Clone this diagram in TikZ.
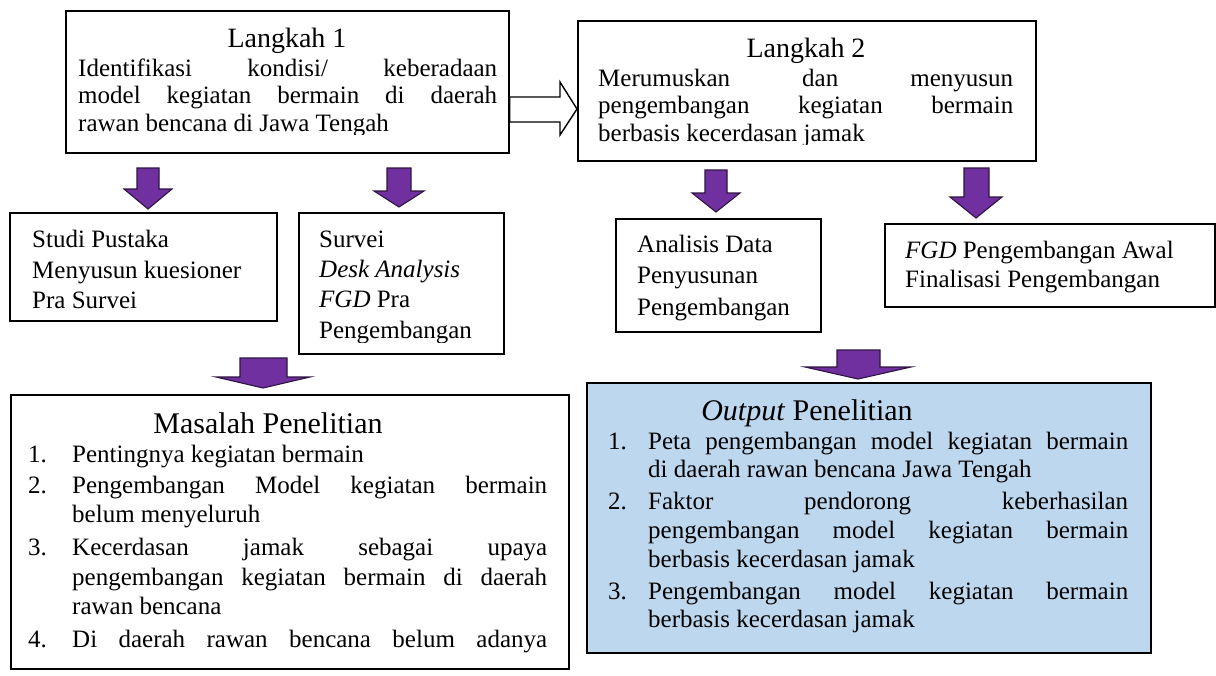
\documentclass[tikz,border=0pt]{standalone}
\usepackage{fontspec}
\setmainfont{Liberation Serif}
\newcommand{\bodyf}{\fontsize{25}{30}\selectfont}
\newcommand{\headf}{\fontsize{28}{33}\selectfont}
\newcommand{\headg}{\fontsize{30}{35}\selectfont}
\newcommand{\jl}[2]{\makebox[#1][s]{#2}}
\newcommand{\nm}[1]{\makebox[44pt][l]{#1}}
\newcommand{\nmo}[1]{\makebox[40pt][l]{#1}}
\definecolor{purp}{HTML}{7030A0}
\definecolor{purpline}{HTML}{2E1440}
\definecolor{outblue}{HTML}{BDD7EE}
\tikzset{
  box/.style={draw=black, line width=1.7pt, inner sep=0pt, anchor=north west},
  ln/.style={anchor=base west, inner sep=0pt, font=\bodyf},
  hd/.style={anchor=base, inner sep=0pt},
  parrow/.style={fill=purp, draw=purpline, line width=1.1pt, line join=miter},
  harrow/.style={fill=white, draw=black, line width=1.4pt, line join=miter}
}
\begin{document}
\begin{tikzpicture}[x=1pt,y=-1pt]
\useasboundingbox (0,0) rectangle (1216,675);
\fill[white] (0,0) rectangle (1216,675);

% ---------- boxes ----------
\node[box, minimum width=443pt, minimum height=142pt] (L1) at (65,10) {};
\node[box, minimum width=458pt, minimum height=140pt] (L2) at (577,20) {};
\node[box, minimum width=267pt, minimum height=108pt] (SP) at (9,212) {};
\node[box, minimum width=205pt, minimum height=141pt] (SV) at (298,212) {};
\node[box, minimum width=205pt, minimum height=113pt] (AD) at (615,218) {};
\node[box, minimum width=330pt, minimum height=83pt] (FG) at (884,223) {};
\node[box, minimum width=558pt, minimum height=274pt] (MP) at (10,394) {};
\node[box, fill=outblue, minimum width=564pt, minimum height=270pt] (OP) at (586,382) {};

% ---------- hollow arrow L1 -> L2 ----------
\draw[harrow] (L1.east |- 0,97) -- (560,97) -- (560,82) -- (L2.west |- 0,109) -- (560,135) -- (560,122) -- (L1.east |- 0,122) -- cycle;

% ---------- purple block arrows ----------
\draw[parrow] (137,168) -- (159,168) -- (159,189) -- (172,189) -- (148,209) -- (124,189) -- (137,189) -- cycle;
\draw[parrow] (387,168) -- (411,168) -- (411,191) -- (424,191) -- (399,207) -- (374,191) -- (387,191) -- cycle;
\draw[parrow] (705,170) -- (727,170) -- (727,193) -- (740,193) -- (716,212) -- (692,193) -- (705,193) -- cycle;
\draw[parrow] (964,168) -- (989,168) -- (989,197) -- (1002,197) -- (976,218) -- (950,197) -- (964,197) -- cycle;
\draw[parrow] (240,358) -- (287,358) -- (287,377) -- (310,377) -- (263,388) -- (216,377) -- (240,377) -- cycle;
\draw[parrow] (837,350) -- (880,350) -- (880,367) -- (911,367) -- (858,379) -- (805,367) -- (837,367) -- cycle;

% ---------- Langkah 1 ----------
\begin{scope}
\clip (65,10) rectangle (508,134);
\node[hd, font=\headf] (l1h) at (287,47) {Langkah 1};
\node[ln] (l1a) at (78,76) {\jl{419pt}{Identifikasi kondisi/ keberadaan}};
\node[ln] (l1b) at (78,103.5) {\jl{419pt}{model kegiatan bermain di daerah}};
\node[ln] (l1c) at (78,131) {rawan bencana di Jawa Tengah};
\end{scope}

% ---------- Langkah 2 ----------
\begin{scope}
\clip (577,20) rectangle (1035,144);
\node[hd, font=\headf] (l2h) at (806,57) {Langkah 2};
\node[ln] (l2a) at (598,86) {\jl{415pt}{Merumuskan dan menyusun}};
\node[ln] (l2b) at (598,113.5) {\jl{415pt}{pengembangan kegiatan bermain}};
\node[ln] (l2c) at (598,141) {berbasis kecerdasan jamak};
\end{scope}

% ---------- Studi Pustaka ----------
\node[ln] (spa) at (32,247) {Studi Pustaka};
\node[ln] (spb) at (32,278) {Menyusun kuesioner};
\node[ln] (spc) at (32,308) {Pra Survei};

% ---------- Survei ----------
\begin{scope}
\clip (298,212) rectangle (503,342);
\node[ln] (sva) at (319,247) {Survei};
\node[ln] (svb) at (319,277) {\textit{Desk Analysis}};
\node[ln] (svc) at (319,307) {\textit{FGD} Pra};
\node[ln] (svd) at (319,338) {Pengembangan};
\end{scope}

% ---------- Analisis Data ----------
\node[ln] (ada) at (637,252) {Analisis Data};
\node[ln] (adb) at (637,283) {Penyusunan};
\node[ln] (adc) at (637,315) {Pengembangan};

% ---------- FGD ----------
\node[ln] (fga) at (905,258) {\textit{FGD} Pengembangan Awal};
\node[ln] (fgb) at (905,287) {Finalisasi Pengembangan};

% ---------- Masalah Penelitian ----------
\begin{scope}
\clip (10,394) rectangle (568,664);
\node[hd, font=\headg] (mph) at (268,433) {Masalah Penelitian};
\node[ln] (mp1) at (28,462) {\nm{1.}Pentingnya kegiatan bermain};
\node[ln] (mp2) at (28,493) {\nm{2.}\jl{475pt}{Pengembangan Model kegiatan bermain}};
\node[ln] (mp2b) at (72,522) {belum menyeluruh};
\node[ln] (mp3) at (28,555) {\nm{3.}\jl{475pt}{Kecerdasan jamak sebagai upaya}};
\node[ln] (mp3b) at (72,585) {\jl{475pt}{pengembangan kegiatan bermain di daerah}};
\node[ln] (mp3c) at (72,614) {rawan bencana};
\node[ln] (mp4) at (28,647) {\nm{4.}\jl{475pt}{Di daerah rawan bencana belum adanya}};
\end{scope}

% ---------- Output Penelitian ----------
\node[hd, font=\headg] (oph) at (807,420) {\textit{Output} Penelitian};
\node[ln] (op1) at (608,449) {\nmo{1.}\jl{480pt}{Peta pengembangan model kegiatan bermain}};
\node[ln] (op1b) at (648,477) {di daerah rawan bencana Jawa Tengah};
\node[ln] (op2) at (608,509) {\nmo{2.}\jl{480pt}{Faktor pendorong keberhasilan}};
\node[ln] (op2b) at (648,538) {\jl{480pt}{pengembangan model kegiatan bermain}};
\node[ln] (op2c) at (648,567) {berbasis kecerdasan jamak};
\node[ln] (op3) at (608,599) {\nmo{3.}\jl{480pt}{Pengembangan model kegiatan bermain}};
\node[ln] (op3b) at (648,627) {berbasis kecerdasan jamak};
\end{tikzpicture}
\end{document}
